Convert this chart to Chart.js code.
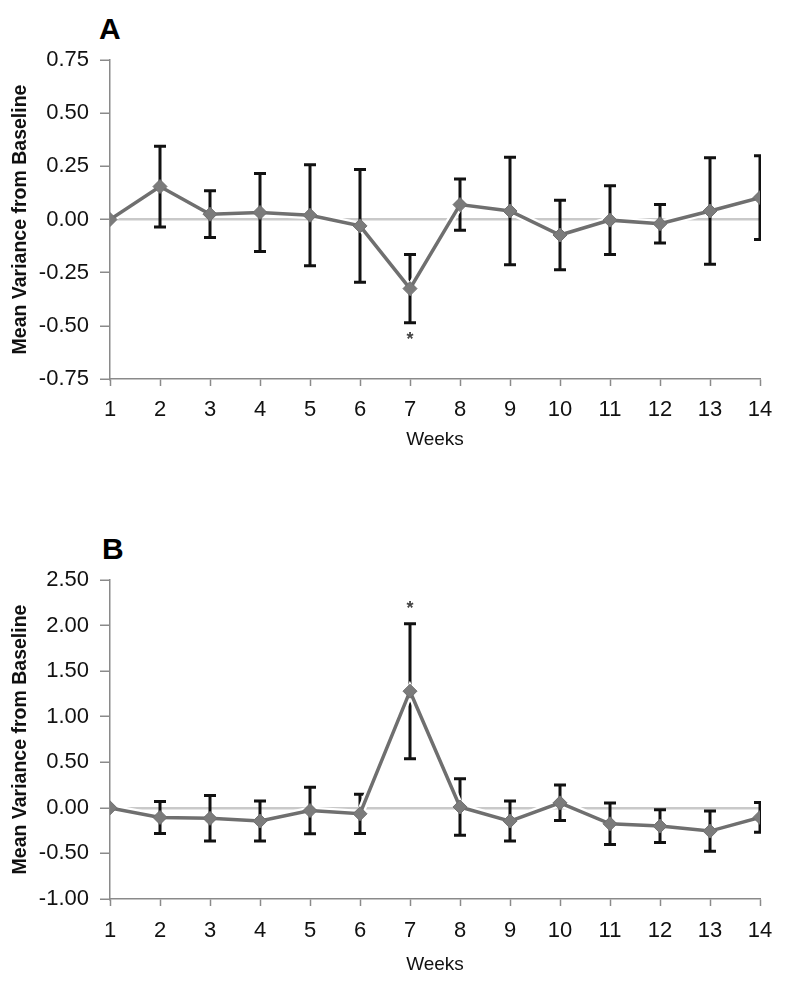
<!DOCTYPE html>
<html lang="en">
<head>
<meta charset="UTF-8">
<title>Mean Variance from Baseline</title>
<script src="https://cdn.jsdelivr.net/npm/chart.js"></script>
<style>
    html, body { margin: 0; padding: 0; background: #fff; overflow: hidden; }
    .panel { position: absolute; left: 0; width: 787px; }
    .panel-label { position: absolute; font: bold 30px "Liberation Sans", Arial, sans-serif; color: #000; }
</style>
</head>
<body>

<div class="panel-label" style="left:99px; top:12px;">A</div>
<div class="panel" style="top:0; height:470px;"><canvas id="chartA"></canvas></div>

<div class="panel-label" style="left:102px; top:532px;">B</div>
<div class="panel" style="top:520px; height:464px;"><canvas id="chartB"></canvas></div>

<script>
// weeks on the x axis
const weeks = [1, 2, 3, 4, 5, 6, 7, 8, 9, 10, 11, 12, 13, 14];

// panel A
const meanA = [0, 0.155, 0.025, 0.033, 0.02, -0.03, -0.325, 0.07, 0.04, -0.073, -0.003, -0.02, 0.04, 0.103];
const errA  = [0, 0.19, 0.11, 0.183, 0.237, 0.265, 0.16, 0.12, 0.253, 0.163, 0.162, 0.09, 0.25, 0.197];
const starA = [7];
const ticksA = [-0.75, -0.5, -0.25, 0, 0.25, 0.5, 0.75];

// panel B
const meanB = [0, -0.105, -0.115, -0.145, -0.03, -0.065, 1.28, 0.01, -0.145, 0.055, -0.175, -0.2, -0.255, -0.105];
const errB  = [0, 0.175, 0.25, 0.22, 0.255, 0.215, 0.74, 0.31, 0.22, 0.195, 0.228, 0.18, 0.22, 0.163];
const starB = [7];
const ticksB = [-1, -0.5, 0, 0.5, 1, 1.5, 2, 2.5];

const FONT = '"Liberation Sans", Arial, sans-serif';
const AXIS_GREY = '#8a8a8a';

// error bars + significance stars, drawn through the chart scales
const errorBarPlugin = {
    id: 'errorBars',
    beforeDatasetsDraw(chart) {
        const opts = chart.options.plugins.errorBars;
        const { ctx, chartArea } = chart;
        const xs = chart.scales.x, ys = chart.scales.y;
        ctx.save();
        ctx.beginPath();
        ctx.rect(0, 0, chartArea.right + 1, chart.height);
        ctx.clip();
        ctx.strokeStyle = '#111';
        ctx.lineWidth = 3;
        opts.mean.forEach((m, i) => {
            const e = opts.err[i];
            if (!e) return;
            const x = xs.getPixelForValue(weeks[i]);
            const yTop = ys.getPixelForValue(m + e);
            const yBot = ys.getPixelForValue(m - e);
            ctx.beginPath();
            ctx.moveTo(x, yTop); ctx.lineTo(x, yBot);
            ctx.moveTo(x - 6, yTop); ctx.lineTo(x + 6, yTop);
            ctx.moveTo(x - 6, yBot); ctx.lineTo(x + 6, yBot);
            ctx.stroke();
        });
        ctx.restore();

        ctx.save();
        ctx.fillStyle = '#444';
        ctx.font = 'bold 18px ' + FONT;
        ctx.textAlign = 'center';
        ctx.textBaseline = 'middle';
        opts.stars.forEach(w => {
            const i = weeks.indexOf(w);
            const m = opts.mean[i], e = opts.err[i];
            const x = xs.getPixelForValue(w);
            const y = m < 0 ? ys.getPixelForValue(m - e) + 17 : ys.getPixelForValue(m + e) - 15;
            ctx.fillText('*', x, y);
        });
        ctx.restore();
    }
};

function makeChart(id, mean, err, stars, tickVals, labelPad, xHeight, padBottom) {
    const points = weeks.map((w, i) => ({ x: w, y: mean[i] }));
    return new Chart(document.getElementById(id), {
        type: 'line',
        data: {
            datasets: [
                {
                    data: points,
                    borderColor: '#6f6f6f',
                    borderWidth: 3.5,
                    tension: 0,
                    pointStyle: 'rectRot',
                    pointRadius: 7,
                    pointBackgroundColor: '#7b7b7b',
                    pointBorderColor: '#6f6f6f',
                    pointBorderWidth: 1,
                    order: 1
                },
                {
                    // white halo under the series line
                    data: points,
                    borderColor: '#ffffff',
                    borderWidth: 8,
                    tension: 0,
                    pointRadius: 0,
                    order: 2
                }
            ]
        },
        options: {
            responsive: true,
            maintainAspectRatio: false,
            animation: false,
            layout: { padding: { top: 60, right: 27, bottom: padBottom, left: 5 } },
            plugins: {
                legend: { display: false },
                tooltip: { enabled: false },
                errorBars: { mean: mean, err: err, stars: stars }
            },
            scales: {
                x: {
                    type: 'linear',
                    min: 1,
                    max: 14,
                    afterFit: s => { s.height = xHeight; },
                    afterBuildTicks: s => { s.ticks = weeks.map(v => ({ value: v })); },
                    ticks: { color: '#111', font: { family: FONT, size: 22 }, padding: labelPad, maxRotation: 0, autoSkip: false },
                    grid: { drawOnChartArea: false, tickLength: 7, tickColor: AXIS_GREY, tickWidth: 1.5 },
                    border: { color: AXIS_GREY, width: 1.5 },
                    title: { display: true, text: 'Weeks', color: '#111', font: { family: FONT, size: 19 }, padding: 0 }
                },
                y: {
                    min: tickVals[0],
                    max: tickVals[tickVals.length - 1],
                    afterFit: s => { s.width = 105; },
                    afterBuildTicks: s => { s.ticks = tickVals.map(v => ({ value: v })); },
                    ticks: { color: '#111', font: { family: FONT, size: 22 }, padding: 11, callback: v => v.toFixed(2) },
                    grid: {
                        color: c => (c.tick && Math.abs(c.tick.value) < 1e-9) ? '#c9c9c9' : 'rgba(0,0,0,0)',
                        lineWidth: 2.5,
                        tickLength: 10,
                        tickColor: AXIS_GREY,
                        tickWidth: 1.5
                    },
                    border: { color: AXIS_GREY, width: 1.5 },
                    title: { display: true, text: 'Mean Variance from Baseline', color: '#111', font: { family: FONT, size: 19.5, weight: 'bold' }, padding: { top: 4, bottom: 0 } }
                }
            }
        },
        plugins: [errorBarPlugin]
    });
}

makeChart('chartA', meanA, errA, starA, ticksA, 11, 72.4, 18.6);
makeChart('chartB', meanB, errB, starB, ticksB, 12, 77.5, 7.5);
</script>

</body>
</html>
